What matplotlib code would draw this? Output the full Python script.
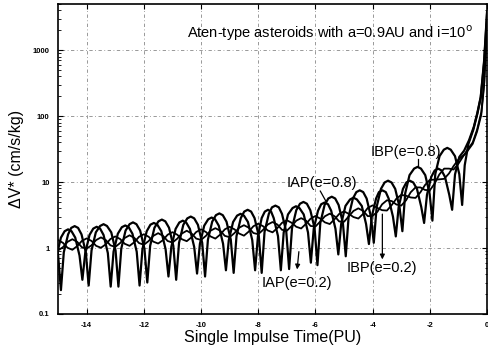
import matplotlib
matplotlib.use("Agg")
import matplotlib.pyplot as plt
from matplotlib.ticker import FixedLocator, LogLocator, NullFormatter

plt.rcParams['font.family'] = ['Liberation Sans', 'DejaVu Sans']
plt.rcParams['axes.unicode_minus'] = False

# =============================================================================
# DATA (time in PU, dV* in cm/s/kg)
# =============================================================================

# IAP, e=0.8 (large oscillation, deep troughs)
iap08_pts = [
    (-15.15, 0.30), (-15.05, 0.77), (-14.9, 1.44), (-14.77, 1.80), (-14.65, 1.92), (-14.53, 1.80), (-14.4, 1.44), (-14.25, 0.77),
    (-14.15, 0.33), (-14.05, 0.84), (-13.9, 1.58), (-13.77, 1.97), (-13.65, 2.1), (-13.53, 1.97), (-13.41, 1.58), (-13.26, 0.84),
    (-13.16, 0.26), (-13.06, 0.88), (-12.91, 1.65), (-12.77, 2.07), (-12.65, 2.2), (-12.53, 2.07), (-12.4, 1.65), (-12.25, 0.88),
    (-12.15, 0.27), (-12.05, 0.96), (-11.9, 1.80), (-11.77, 2.26), (-11.65, 2.4), (-11.53, 2.26), (-11.39, 1.80), (-11.24, 0.96),
    (-11.14, 0.37), (-11.04, 1.04), (-10.89, 1.95), (-10.76, 2.44), (-10.64, 2.6), (-10.52, 2.44), (-10.39, 1.95), (-10.24, 1.04),
    (-10.14, 0.41), (-10.04, 1.16), (-9.89, 2.18), (-9.75, 2.73), (-9.63, 2.9), (-9.51, 2.73), (-9.38, 2.18), (-9.23, 1.16),
    (-9.13, 0.46), (-9.03, 1.32), (-8.88, 2.48), (-8.74, 3.10), (-8.62, 3.3), (-8.5, 3.10), (-8.36, 2.48), (-8.21, 1.32),
    (-8.11, 0.46), (-8.01, 1.52), (-7.88, 2.85), (-7.77, 3.57), (-7.66, 3.8), (-7.55, 3.57), (-7.46, 2.85), (-7.31, 1.52),
    (-7.21, 0.46), (-7.11, 1.72), (-6.96, 3.23), (-6.8, 4.04), (-6.68, 4.3), (-6.56, 4.04), (-6.41, 3.23), (-6.26, 1.72),
    (-6.16, 0.60), (-6.06, 1.96), (-5.91, 3.68), (-5.8, 4.61), (-5.68, 4.9), (-5.56, 4.61), (-5.45, 3.68), (-5.30, 1.96),
    (-5.20, 0.80), (-5.10, 2.32), (-4.95, 4.35), (-4.79, 5.45), (-4.67, 5.8), (-4.55, 5.45), (-4.38, 4.35), (-4.23, 2.32),
    (-4.13, 1.15), (-4.03, 3.00), (-3.88, 5.63), (-3.78, 7.05), (-3.66, 7.5), (-3.54, 7.05), (-3.44, 5.63), (-3.29, 3.00),
    (-3.19, 1.50), (-3.09, 4.20), (-2.94, 7.88), (-2.82, 9.87), (-2.70, 10.5), (-2.58, 9.87), (-2.45, 7.88), (-2.30, 4.20),
    (-2.20, 2.40), (-2.10, 6.40), (-1.95, 12.0), (-1.83, 15.0), (-1.71, 16.0), (-1.59, 15.0), (-1.47, 12.0), (-1.32, 6.40),
    (-1.22, 3.80), (-1.12, 13.0), (-0.97, 24.0), (-0.80, 30.0), (-0.63, 43.0), (-0.46, 69.0),
    (-0.34, 111.0), (-0.22, 196.0), (-0.10, 707.0), (0.0, 3800.0),
]

# IBP, e=0.8 (large oscillation, highest peaks)
ibp08_pts = [
    (-15.28, 1.88), (-15.15, 1.50), (-15.0, 0.80),
    (-14.9, 0.23), (-14.8, 0.86), (-14.65, 1.61), (-14.54, 2.02), (-14.42, 2.15), (-14.3, 2.02), (-14.18, 1.61), (-14.03, 0.86),
    (-13.93, 0.27), (-13.83, 0.92), (-13.68, 1.73), (-13.53, 2.16), (-13.41, 2.3), (-13.29, 2.16), (-13.14, 1.73), (-12.99, 0.92),
    (-12.89, 0.26), (-12.79, 0.98), (-12.64, 1.84), (-12.5, 2.30), (-12.38, 2.45), (-12.26, 2.30), (-12.13, 1.84), (-11.98, 0.98),
    (-11.88, 0.30), (-11.78, 1.08), (-11.63, 2.03), (-11.49, 2.54), (-11.37, 2.7), (-11.25, 2.54), (-11.12, 2.03), (-10.97, 1.08),
    (-10.87, 0.33), (-10.77, 1.20), (-10.62, 2.25), (-10.48, 2.82), (-10.36, 3.0), (-10.24, 2.82), (-10.11, 2.25), (-9.96, 1.20),
    (-9.86, 0.37), (-9.76, 1.34), (-9.61, 2.51), (-9.48, 3.15), (-9.36, 3.35), (-9.24, 3.15), (-9.11, 2.51), (-8.96, 1.34),
    (-8.86, 0.42), (-8.76, 1.52), (-8.61, 2.85), (-8.49, 3.57), (-8.37, 3.8), (-8.25, 3.57), (-8.13, 2.85), (-7.98, 1.52),
    (-7.88, 0.42), (-7.78, 1.76), (-7.63, 3.30), (-7.52, 4.14), (-7.40, 4.4), (-7.28, 4.14), (-7.17, 3.30), (-7.02, 1.76),
    (-6.92, 0.48), (-6.82, 2.00), (-6.67, 3.75), (-6.54, 4.70), (-6.42, 5.0), (-6.3, 4.70), (-6.18, 3.75), (-6.03, 2.00),
    (-5.93, 0.55), (-5.83, 2.40), (-5.68, 4.50), (-5.55, 5.64), (-5.43, 6.0), (-5.31, 5.64), (-5.19, 4.50), (-5.04, 2.40),
    (-4.94, 0.75), (-4.84, 3.00), (-4.69, 5.63), (-4.57, 7.05), (-4.45, 7.5), (-4.33, 7.05), (-4.21, 5.63), (-4.06, 3.00),
    (-3.96, 1.20), (-3.86, 4.20), (-3.71, 7.88), (-3.58, 9.87), (-3.46, 10.5), (-3.34, 9.87), (-3.21, 7.88), (-3.06, 4.20),
    (-2.96, 1.80), (-2.86, 6.80), (-2.71, 12.75), (-2.55, 16.0), (-2.43, 17.0), (-2.31, 16.0), (-2.16, 12.75), (-2.01, 6.80),
    (-1.91, 2.60), (-1.81, 13.2), (-1.66, 24.75), (-1.51, 31.0), (-1.39, 33.0), (-1.27, 31.0), (-1.12, 24.75), (-0.97, 13.2),
    (-0.87, 4.50), (-0.78, 18.0), (-0.65, 38.0), (-0.48, 62.0), (-0.34, 108.0), (-0.22, 190.0),
    (-0.10, 650.0), (0.0, 3500.0),
]

# IAP, e=0.2 (small wave)
iap02_pts = [
    (-15.0, 0.92), (-14.83, 1.03), (-14.67, 1.24), (-14.5, 1.36), (-14.33, 1.24), (-14.17, 1.03),
    (-14.0, 0.98), (-13.83, 1.10), (-13.67, 1.32), (-13.5, 1.45), (-13.33, 1.32), (-13.17, 1.10),
    (-13.0, 1.04), (-12.83, 1.19), (-12.67, 1.42), (-12.5, 1.56), (-12.33, 1.42), (-12.17, 1.19),
    (-12.0, 1.12), (-11.83, 1.28), (-11.67, 1.53), (-11.5, 1.68), (-11.33, 1.53), (-11.17, 1.28),
    (-11.0, 1.21), (-10.83, 1.39), (-10.67, 1.66), (-10.5, 1.83), (-10.33, 1.66), (-10.17, 1.39),
    (-10.0, 1.33), (-9.83, 1.53), (-9.67, 1.83), (-9.5, 2.00), (-9.33, 1.83), (-9.17, 1.53),
    (-9.0, 1.46), (-8.83, 1.69), (-8.67, 2.03), (-8.5, 2.22), (-8.33, 2.03), (-8.17, 1.69),
    (-8.0, 1.62), (-7.83, 1.89), (-7.67, 2.27), (-7.5, 2.48), (-7.33, 2.27), (-7.17, 1.89),
    (-7.0, 1.83), (-6.83, 2.16), (-6.67, 2.60), (-6.5, 2.84), (-6.33, 2.60), (-6.17, 2.16),
    (-6.0, 2.12), (-5.83, 2.53), (-5.67, 3.03), (-5.5, 3.32), (-5.33, 3.03), (-5.17, 2.53),
    (-5.0, 2.50), (-4.83, 3.04), (-4.67, 3.65), (-4.5, 4.00), (-4.33, 3.65), (-4.17, 3.04),
    (-4.0, 3.08), (-3.83, 3.56), (-3.67, 4.60), (-3.5, 5.30), (-3.33, 5.15), (-3.17, 4.57),
    (-3.0, 4.40), (-2.83, 5.30), (-2.67, 7.00), (-2.5, 8.30), (-2.33, 8.30), (-2.17, 7.60),
    (-2.0, 7.50), (-1.83, 9.50), (-1.67, 13.0), (-1.5, 16.0), (-1.33, 16.0), (-1.17, 15.5),
    (-1.0, 19.0), (-0.75, 28.0), (-0.5, 40.0), (-0.35, 62.0), (-0.2, 115.0), (-0.1, 320.0),
    (0.0, 2500.0),
]

# IBP, e=0.2 (small wave)
ibp02_pts = [
    (-15.0, 1.32), (-14.83, 1.20), (-14.67, 1.01), (-14.5, 0.94), (-14.33, 1.07), (-14.17, 1.28),
    (-14.0, 1.40), (-13.83, 1.28), (-13.67, 1.08), (-13.5, 1.01), (-13.33, 1.14), (-13.17, 1.37),
    (-13.0, 1.50), (-12.83, 1.37), (-12.67, 1.16), (-12.5, 1.08), (-12.33, 1.23), (-12.17, 1.48),
    (-12.0, 1.62), (-11.83, 1.48), (-11.67, 1.25), (-11.5, 1.17), (-11.33, 1.32), (-11.17, 1.59),
    (-11.0, 1.74), (-10.83, 1.59), (-10.67, 1.36), (-10.5, 1.27), (-10.33, 1.46), (-10.17, 1.75),
    (-10.0, 1.92), (-9.83, 1.75), (-9.67, 1.50), (-9.5, 1.39), (-9.33, 1.60), (-9.17, 1.92),
    (-9.0, 2.10), (-8.83, 1.92), (-8.67, 1.66), (-8.5, 1.54), (-8.33, 1.78), (-8.17, 2.14),
    (-8.0, 2.34), (-7.83, 2.14), (-7.67, 1.85), (-7.5, 1.73), (-7.33, 2.01), (-7.17, 2.41),
    (-7.0, 2.64), (-6.83, 2.41), (-6.67, 2.10), (-6.5, 1.98), (-6.33, 2.33), (-6.17, 2.79),
    (-6.0, 3.06), (-5.83, 2.79), (-5.67, 2.45), (-5.5, 2.31), (-5.33, 2.74), (-5.17, 3.29),
    (-5.0, 3.60), (-4.83, 3.29), (-4.67, 2.95), (-4.5, 2.80), (-4.33, 3.30), (-4.17, 4.05),
    (-4.0, 4.44), (-3.83, 4.05), (-3.67, 3.75), (-3.5, 3.70), (-3.33, 4.50), (-3.17, 5.60),
    (-3.0, 6.40), (-2.83, 6.20), (-2.67, 5.85), (-2.5, 5.75), (-2.33, 7.00), (-2.17, 9.00),
    (-2.0, 10.8), (-1.83, 10.9), (-1.67, 11.0), (-1.5, 11.2), (-1.33, 13.5), (-1.17, 17.5),
    (-1.0, 22.0), (-0.75, 27.0), (-0.5, 38.0), (-0.35, 58.0), (-0.2, 105.0), (-0.1, 300.0),
    (0.0, 2200.0),
]

x_ticks = [-14, -12, -10, -8, -6, -4, -2, 0]
y_ticks = [0.1, 1, 10, 100, 1000]
y_tick_labels = ['0.1', '1', '10', '100', '1000']

title_text = 'Aten-type asteroids with a=0.9AU and i=10$^{\\rm o}$'

# =============================================================================
# PLOT
# =============================================================================

fig = plt.figure(figsize=(4.88, 3.53), dpi=100)
ax = fig.add_axes([0.119, 0.1105, 0.879, 0.878])

for pts, lw in [(iap02_pts, 1.3), (ibp02_pts, 1.3), (iap08_pts, 1.6), (ibp08_pts, 1.6)]:
    t, v = zip(*pts)
    ax.plot(t, v, color='black', linewidth=lw, solid_joinstyle='round')

ax.set_yscale('log')
ax.set_xlim(-15, 0)
ax.set_ylim(0.1, 5000)

ax.xaxis.set_major_locator(FixedLocator(x_ticks))
ax.set_xticklabels([str(x) for x in x_ticks])
ax.yaxis.set_major_locator(FixedLocator(y_ticks))
ax.set_yticklabels(y_tick_labels)
ax.yaxis.set_minor_locator(LogLocator(base=10, subs=range(2, 10)))
ax.yaxis.set_minor_formatter(NullFormatter())

ax.tick_params(which='both', direction='in', top=True, right=True)
ax.tick_params(which='major', length=3.5, width=0.8, labelsize=5.5, pad=6)
ax.tick_params(which='minor', length=1.8, width=0.6)
for lbl in ax.get_xticklabels() + ax.get_yticklabels():
    lbl.set_fontweight('bold')

ax.grid(True, which='major', color='#888888', linestyle=(0, (1, 3, 4, 3)), linewidth=0.6)
for s in ax.spines.values():
    s.set_linewidth(1.2)

ax.set_xlabel('Single Impulse Time(PU)', fontsize=11.5, labelpad=0.5)
ax.set_ylabel('ΔV* (cm/s/kg)', fontsize=11.5, labelpad=6)

# annotations
ax.text(0.634, 0.906, title_text, transform=ax.transAxes, ha='center', va='center', fontsize=10.5)

ax.text(-2.85, 28.5, 'IBP(e=0.8)', ha='center', va='center', fontsize=10.5)
ax.plot([-2.41, -2.41], [22.0, 17.5], color='black', linewidth=0.9)

ax.text(-5.78, 9.6, 'IAP(e=0.8)', ha='center', va='center', fontsize=10.5)
ax.plot([-5.83, -5.62], [7.3, 5.0], color='black', linewidth=0.9)

ax.text(-6.65, 0.295, 'IAP(e=0.2)', ha='center', va='center', fontsize=10.5)
ax.annotate('', xy=(-6.65, 0.43), xytext=(-6.57, 0.97),
            arrowprops=dict(arrowstyle='-|>', color='black', lw=0.9, mutation_scale=7))

ax.text(-3.67, 0.5, 'IBP(e=0.2)', ha='center', va='center', fontsize=10.5)
ax.annotate('', xy=(-3.66, 0.61), xytext=(-3.66, 3.6),
            arrowprops=dict(arrowstyle='-|>', color='black', lw=0.9, mutation_scale=7))

plt.savefig('out.png', dpi=100)
